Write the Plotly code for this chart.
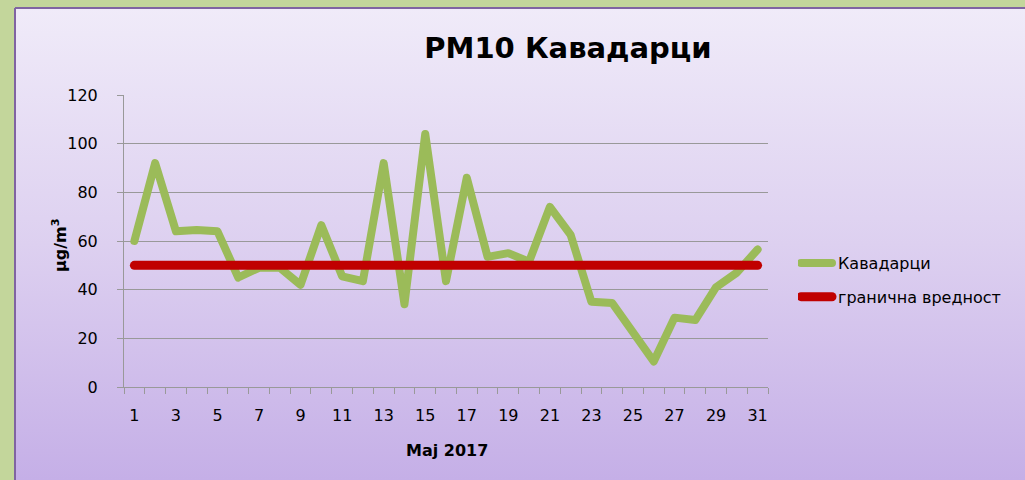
import base64
import plotly.graph_objects as go

days = list(range(1, 32))
kavadarci = [60, 92, 64, 64.5, 64, 45, 49, 49, 42, 66.5, 45.5, 43.5, 92, 34, 104,
             43.5, 86, 53.5, 55, 51.5, 74, 62.5, 35, 34.5, 22.5, 10.5, 28.5, 27.5, 41, 47, 56.5]
limit_value = [50] * 31
x_tick_vals = list(range(1, 32, 2))
x_tick_text = [str(v) for v in x_tick_vals]
y_tick_vals = [0, 20, 40, 60, 80, 100, 120]

W, H = 1025, 480
L, R, T, B = 124, 257, 95, 93
PW, PH = W - L - R, H - T - B

def px_x(p):
    return (p - L) / PW

def px_y(p):
    return (H - B - p) / PH

FONT = "'DejaVu Sans', 'Noto Sans', sans-serif"

svg = ('<svg xmlns="http://www.w3.org/2000/svg" width="100" height="100" viewBox="0 0 100 100" '
       'preserveAspectRatio="none"><defs><linearGradient id="g" x1="0" y1="0" x2="0" y2="1">'
       '<stop offset="0" stop-color="#f0ebf9"/><stop offset="0.5" stop-color="#ddd0f0"/>'
       '<stop offset="1" stop-color="#c5afe7"/></linearGradient></defs>'
       '<rect x="0" y="0" width="100" height="100" fill="url(#g)"/></svg>')
src = "data:image/svg+xml;base64," + base64.b64encode(svg.encode()).decode()

fig = go.Figure()
fig.add_trace(go.Scatter(x=days, y=kavadarci, mode="lines", name="Кавадарци",
                         line=dict(color="#9bbb59", width=8), legendgroup="a"))
fig.add_trace(go.Scatter(x=days, y=limit_value, mode="lines", name="гранична вредност",
                         line=dict(color="#c00000", width=9), legendgroup="b"))

fig.update_layout(
    width=W, height=H,
    margin=dict(l=L, r=R, t=T, b=B),
    paper_bgcolor="#c3d69b",
    plot_bgcolor="rgba(0,0,0,0)",
    font=dict(family=FONT, size=16, color="#000000"),
    title=dict(text="<b>PM10 Кавадарци</b>", font=dict(size=29, family=FONT),
               xref="container", x=568 / W, xanchor="center",
               yref="container", y=1 - 48 / H, yanchor="middle"),
    showlegend=True,
    legend=dict(x=px_x(798), xanchor="left", y=px_y(280), yanchor="middle",
                bgcolor="rgba(0,0,0,0)", font=dict(size=16, family=FONT),
                tracegroupgap=10, traceorder="grouped"),
    images=[dict(source=src, xref="paper", yref="paper",
                 x=px_x(15), y=px_y(8), sizex=px_x(W) - px_x(15), sizey=px_y(8) - px_y(H),
                 xanchor="left", yanchor="top", sizing="stretch", layer="below")],
    shapes=[
        dict(type="line", xref="paper", yref="paper", x0=px_x(15), x1=px_x(15),
             y0=px_y(8), y1=px_y(H), line=dict(color="#8064a2", width=2)),
        dict(type="line", xref="paper", yref="paper", x0=px_x(15), x1=px_x(W),
             y0=px_y(8), y1=px_y(8), line=dict(color="#8064a2", width=2)),
    ],
    annotations=[
        dict(text="<b>μg/m<sup>3</sup></b>", xref="paper", yref="paper",
             x=px_x(59), y=px_y(245), textangle=-90, showarrow=False,
             font=dict(size=16, family=FONT), xanchor="center", yanchor="middle"),
        dict(text="<b>Maj 2017</b>", xref="paper", yref="paper",
             x=px_x(447), y=px_y(450), showarrow=False,
             font=dict(size=16, family=FONT), xanchor="center", yanchor="middle"),
    ],
)

fig.update_xaxes(range=[0.5, 31.5], tickmode="array", tickvals=x_tick_vals, ticktext=x_tick_text,
                 ticks="", showgrid=False, zeroline=False, showline=True,
                 linecolor="#999999", linewidth=1, ticklabelstandoff=14,
                 tickfont=dict(size=16),
                 minor=dict(tick0=0.5, dtick=1, ticks="outside", ticklen=6,
                            tickcolor="#999999", showgrid=False))
fig.update_yaxes(range=[0, 120], tickmode="array", tickvals=y_tick_vals,
                 ticks="outside", ticklen=6, tickcolor="#999999",
                 showgrid=True, gridcolor="#999999", gridwidth=1, zeroline=False,
                 showline=True, linecolor="#999999", linewidth=1,
                 ticklabelstandoff=16, tickfont=dict(size=16))

post = (
    "document.body.style.margin='0';"
    "document.body.style.background='#c3d69b';"
    "document.body.style.overflow='hidden';"
    "var gd=document.getElementById('{plot_id}');"
    "function rnd(){"
    "gd.querySelectorAll('.scatterlayer path.js-line').forEach(function(p){"
    "p.style.strokeLinejoin='round';p.style.strokeLinecap='round';});"
    "gd.querySelectorAll('.legendlines path').forEach(function(p){"
    "p.setAttribute('d','M3,0h31');p.style.strokeLinecap='round';});}"
    "rnd();setTimeout(rnd,50);"
)
fig.write_html("out.html", config={"displayModeBar": False}, post_script=post)
